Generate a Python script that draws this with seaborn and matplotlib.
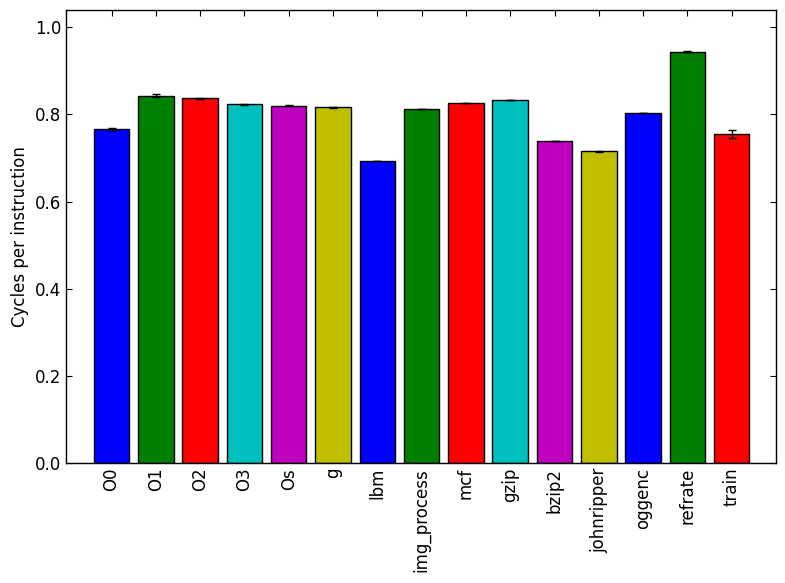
import matplotlib
matplotlib.use("Agg")
import matplotlib.pyplot as plt
import seaborn as sns
import pandas as pd

benchmarks = ['O0', 'O1', 'O2', 'O3', 'Os', 'g', 'lbm', 'img_process', 'mcf',
              'gzip', 'bzip2', 'johnripper', 'oggenc', 'refrate', 'train']
cpi = [0.766, 0.843, 0.837, 0.823, 0.820, 0.816, 0.692, 0.812, 0.827,
       0.834, 0.740, 0.715, 0.804, 0.944, 0.756]
cpi_err = [0.003, 0.004, 0.001, 0.001, 0.001, 0.001, 0.0, 0.0, 0.0,
           0.0, 0.0, 0.001, 0.0, 0.001, 0.009]
bar_colors = ['#0000ff', '#008000', '#ff0000', '#00bfbf', '#bf00bf', '#bfbf00']

df = pd.DataFrame({'bench': benchmarks, 'cpi': cpi})
palette = [bar_colors[i % len(bar_colors)] for i in range(len(benchmarks))]

sns.set_style("white")
plt.rcParams['font.family'] = ['DejaVu Sans']
plt.rcParams.update({
    'xtick.direction': 'in', 'ytick.direction': 'in',
    'xtick.top': True, 'ytick.right': True,
    'xtick.major.size': 4, 'ytick.major.size': 4,
    'xtick.bottom': True, 'ytick.left': True,
    'axes.edgecolor': 'black', 'axes.linewidth': 1.0,
    'text.color': 'black', 'axes.labelcolor': 'black',
    'xtick.color': 'black', 'ytick.color': 'black',
})

fig, ax = plt.subplots(figsize=(7.85, 5.83), dpi=100)
sns.barplot(data=df, x='bench', y='cpi', hue='bench', palette=palette,
            legend=False, saturation=1, width=0.8, edgecolor='black',
            linewidth=1, errorbar=None, ax=ax)
ax.errorbar(range(len(benchmarks)), cpi, yerr=cpi_err, fmt='none',
            ecolor='black', elinewidth=1, capsize=3)

ax.set_xlim(-1.03, 15.0)
ax.set_ylim(0, 1.04)
ax.set_yticks([0.0, 0.2, 0.4, 0.6, 0.8, 1.0])
ax.set_xlabel('')
ax.set_ylabel('Cycles per instruction', fontsize=12)
ax.tick_params(axis='x', labelrotation=90, labelsize=12)
ax.tick_params(axis='y', labelsize=12)

fig.subplots_adjust(left=0.084, right=0.9885, bottom=0.206, top=0.983)
fig.savefig('out.png', dpi=100, facecolor='white')
